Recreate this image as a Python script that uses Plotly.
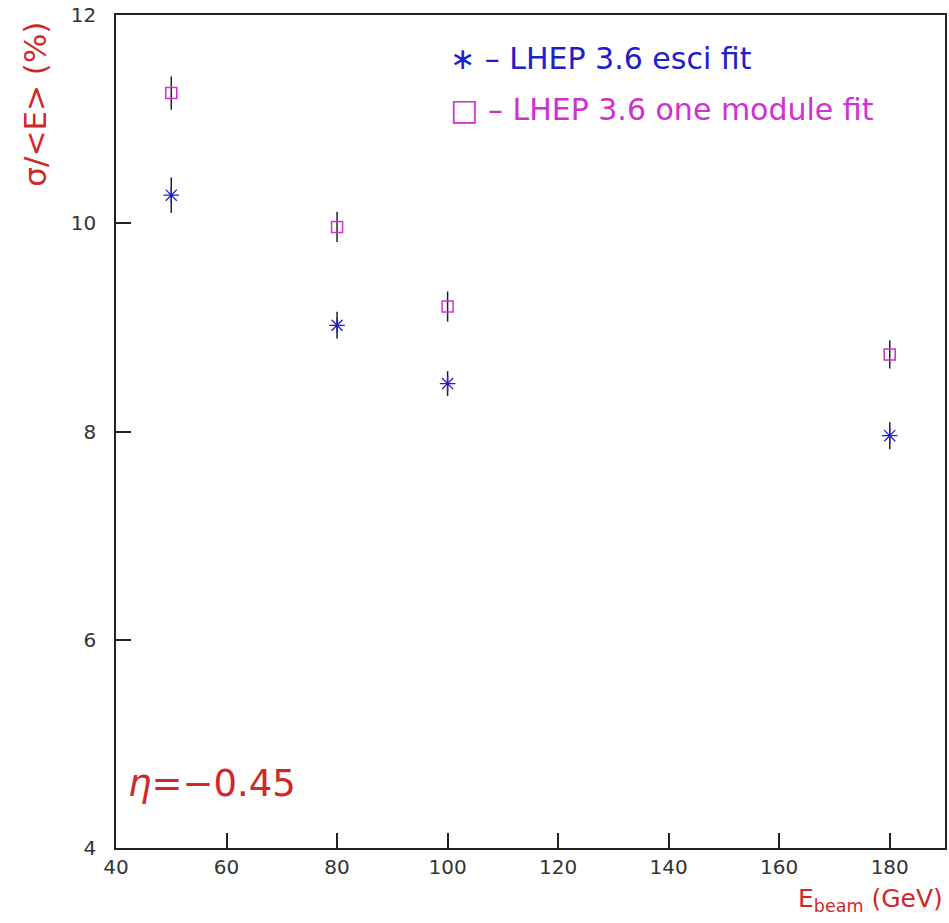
import plotly.graph_objects as go

energies = [50, 80, 100, 180]
esci_fit = [10.27, 9.02, 8.46, 7.96]
esci_err = [0.17, 0.13, 0.12, 0.13]
one_module_fit = [11.25, 9.965, 9.20, 8.74]
one_module_err = [0.16, 0.145, 0.145, 0.135]

x_ticks = [40, 60, 80, 100, 120, 140, 160, 180]
y_ticks = [4, 6, 8, 10, 12]

BLUE = "#2020c8"
MAGENTA = "#d030d0"
RED = "#d02828"
FONT = "DejaVu Sans"

fig = go.Figure()
fig.add_trace(go.Scatter(
    x=energies, y=one_module_fit, mode="markers",
    marker=dict(symbol="square-open", size=11, color=MAGENTA, line=dict(width=1.5, color=MAGENTA)),
    error_y=dict(type="data", array=one_module_err, color="#222222", thickness=1.5, width=0),
    showlegend=False,
))
fig.add_trace(go.Scatter(
    x=energies, y=esci_fit, mode="markers",
    marker=dict(symbol="asterisk-open", size=13, color=BLUE, line=dict(width=1.3, color=BLUE)),
    error_y=dict(type="data", array=esci_err, color="#222222", thickness=1.5, width=0),
    showlegend=False,
))

axis_common = dict(
    showline=True, linecolor="#222222", linewidth=1.5, mirror=True,
    ticks="inside", ticklen=15, tickwidth=1.5, tickcolor="#222222",
    showgrid=False, zeroline=False,
    tickfont=dict(family=FONT, size=20, color="#333333"),
)
fig.update_xaxes(range=[40, 190], tickvals=x_ticks, ticktext=[str(v) for v in x_ticks], **axis_common)
fig.update_yaxes(range=[4, 12], tickvals=y_ticks, ticktext=[str(v) for v in y_ticks],
                 ticklabelstandoff=14, **axis_common)

fig.add_annotation(x=0.4, y=0.948, xref="paper", yref="paper", xanchor="left", yanchor="middle",
                   text="∗ – LHEP 3.6 esci fit", showarrow=False,
                   font=dict(family=FONT, size=30, color=BLUE))
fig.add_annotation(x=0.4, y=0.886, xref="paper", yref="paper", xanchor="left", yanchor="middle",
                   text="□ – LHEP 3.6 one module fit", showarrow=False,
                   font=dict(family=FONT, size=30, color=MAGENTA))
fig.add_annotation(x=0.012, y=0.078, xref="paper", yref="paper", xanchor="left", yanchor="middle",
                   text="<i>η</i>=−0.45", showarrow=False,
                   font=dict(family=FONT, size=37, color=RED))
fig.add_annotation(x=1.0, y=-0.062, xref="paper", yref="paper", xanchor="right", yanchor="middle",
                   text="E<sub>beam</sub> (GeV)", showarrow=False,
                   font=dict(family=FONT, size=25, color=RED))
fig.add_annotation(x=-0.0975, y=0.994, xref="paper", yref="paper", xanchor="center", yanchor="top",
                   text="σ/<E> (%)", showarrow=False, textangle=-90,
                   font=dict(family=FONT, size=31, color=RED))

fig.update_layout(
    width=949, height=923,
    margin=dict(l=116, r=2, t=15, b=75),
    paper_bgcolor="white", plot_bgcolor="white",
)
fig.write_html("out.html")
